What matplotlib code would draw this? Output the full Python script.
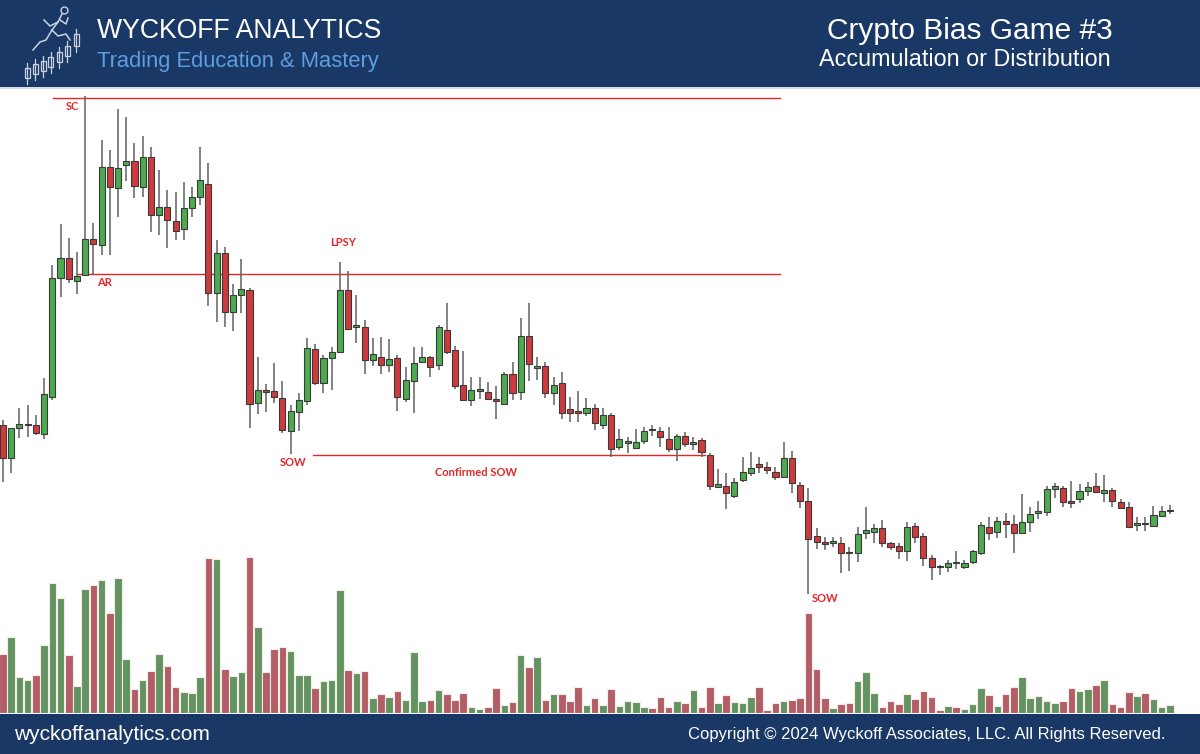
import matplotlib
matplotlib.use("Agg")
import matplotlib.pyplot as plt
from matplotlib.patches import Rectangle
from matplotlib import font_manager as fm

# ---------------- data (price units arbitrary) ----------------
opens = [275,242,272,275,275,266,303,422,442,419,425,461,455,533,512,535,539,513,543,485,
         493,479,471,492,503,516,407,447,388,405,410,297,310,309,302,269,288,299,351,317,
         342,348,410,373,373,340,343,335,342,301,319,338,343,335,370,350,315,300,309,308,
         301,296,326,308,364,332,334,307,317,291,289,287,292,275,285,253,257,252,259,271,
         269,261,251,264,256,260,245,213,214,204,220,227,236,233,228,223,242,215,199,164,
         158,157,157,148,147,167,168,172,157,154,149,174,164,142,134,133,138,133,138,147,
         173,168,179,176,167,178,187,188,211,212,199,201,209,214,207,210,198,193,175,177,
         174,184,189]
highs = [280,272,292,295,285,322,435,476,462,448,604,477,560,550,591,583,557,564,553,530,
         510,508,518,513,553,537,460,453,416,441,412,343,316,337,319,295,307,362,356,345,
         353,438,429,405,380,362,363,361,345,333,353,353,344,375,397,354,349,323,323,318,
         314,328,338,382,397,343,338,323,328,303,309,302,296,292,287,271,263,271,273,275,
         273,273,266,268,263,262,247,231,227,222,243,248,243,238,233,258,249,218,212,172,
         163,163,163,153,173,193,176,180,158,157,178,177,167,145,135,140,149,140,150,178,
         183,183,187,185,206,193,199,214,217,214,219,216,218,227,225,212,201,198,183,183,
         194,194,195]
lows = [218,227,262,263,265,261,300,403,417,406,424,426,445,445,483,519,502,503,468,465,
        452,460,460,483,495,394,378,373,369,387,272,286,288,297,267,246,269,295,315,307,
        310,348,370,357,326,334,326,328,289,298,287,337,323,330,346,311,300,294,301,300,
        281,295,300,300,319,320,302,295,281,278,278,284,270,271,243,250,247,251,256,264,
        253,248,239,253,250,243,210,213,191,202,218,224,227,226,220,222,207,192,106,151,
        150,153,127,129,138,161,157,153,150,141,139,157,134,120,125,128,131,131,136,145,
        160,162,162,147,167,168,181,184,202,193,192,197,204,207,198,193,191,172,169,169,
        173,183,186]
closes = [242,272,276,276,267,306,422,442,421,424,461,456,533,513,532,539,514,543,485,493,
          480,469,492,503,520,407,447,388,405,411,296,310,308,303,270,289,300,352,317,342,
          348,410,371,375,340,346,335,341,303,320,337,343,333,373,348,314,300,310,311,301,
          299,326,307,364,336,334,307,315,287,287,287,292,277,285,251,261,259,258,269,270,
          263,251,264,256,258,248,214,216,207,218,228,232,233,230,223,242,217,199,161,158,
          156,159,147,147,166,170,172,157,153,149,173,163,142,133,133,137,137,137,149,175,
          167,179,176,167,178,186,189,211,214,198,197,209,213,208,210,199,192,173,177,176,
          185,189,190]
volumes = [59,76,36,33,38,68,130,115,58,27,124,128,133,100,135,54,24,33,42,59,
           47,26,21,20,36,155,154,44,37,41,156,86,41,64,66,62,38,38,25,32,
           33,123,43,40,42,15,19,16,22,13,61,12,13,23,19,13,20,6,4,6,
           25,8,11,58,46,56,13,19,19,12,26,8,15,8,24,7,12,11,6,5,
           16,6,12,10,23,6,26,10,18,11,10,16,26,3,10,12,13,15,100,44,
           15,5,9,10,32,41,20,6,12,9,19,14,22,16,3,7,6,4,9,25,
           18,7,19,26,36,15,17,12,10,12,25,22,24,28,33,9,6,21,17,20,
           14,6,8]

level_names = ["SC", "AR", "Confirmed SOW"]
level_prices = [602, 426, 245]
level_spans = [(6.1, 94.6), (9.0, 94.6), (37.7, 85.4)]

label_texts = ["SC", "AR", "LPSY", "SOW", "Confirmed SOW", "SOW"]
label_pos = [(8.5, 593), (12.4, 417), (41.4, 457), (35.3, 238), (57.6, 227), (100.1, 101)]

title_left = "WYCKOFF ANALYTICS"
subtitle_left = "Trading Education & Mastery"
title_right = "Crypto Bias Game #3"
subtitle_right = "Accumulation or Distribution"
footer_left = "wyckoffanalytics.com"
footer_right = "Copyright \u00a9 2024 Wyckoff Associates, LLC. All Rights Reserved."

# ---------------- style ----------------
NAVY = "#1a3865"
UP = "#4caa4f"
DOWN = "#cf3b3c"
VUP = "#629360"
VDOWN = "#b35d66"
LINE_RED = "#e0282a"
ICON = "#c9d3e0"

avail = {f.name for f in fm.fontManager.ttflist}
label_font = "Lato" if "Lato" in avail else "DejaVu Sans"

W, H = 1200, 754
fig = plt.figure(figsize=(12, 7.54), dpi=100)
fig.patch.set_facecolor("white")

def fx(px):
    return px / W

def fy(py):
    return 1 - py / H

# header / footer bands
fig.add_artist(Rectangle((0, fy(87)), 1, 87 / H, transform=fig.transFigure,
                         facecolor=NAVY, edgecolor="none", zorder=0))
fig.add_artist(Rectangle((0, 0), 1, fy(714), transform=fig.transFigure,
                         facecolor=NAVY, edgecolor="none", zorder=0))
fig.add_artist(plt.Line2D([0, 1], [fy(88), fy(88)], transform=fig.transFigure,
                          color="#cfd6e0", lw=1.2))

# axes
pos = [0, fy(713), 1, (713 - 88) / H]
n = len(opens)
idx = list(range(n))
xlim = (-0.365, 145.66)

vax = fig.add_axes(pos)
vax.set_xlim(*xlim)
vax.set_ylim(0, 625)
vax.axis("off")
vcols = [VUP if c >= o else VDOWN for o, c in zip(opens, closes)]
vax.bar(idx, volumes, width=0.92, color=vcols, edgecolor="#f4ece6", linewidth=0.8)

ax = fig.add_axes(pos)
ax.set_xlim(*xlim)
ax.set_ylim(-13, 612)
ax.axis("off")
ax.patch.set_alpha(0)

for name, lvl, (x0, x1) in zip(level_names, level_prices, level_spans):
    ax.plot([x0, x1], [lvl, lvl], color=LINE_RED, lw=1.0, zorder=1)

ax.vlines(idx, lows, highs, color="#606060", lw=1.1, zorder=2)
bottoms = [min(o, c) for o, c in zip(opens, closes)]
heights = [max(abs(c - o), 1.2) for o, c in zip(opens, closes)]
ccols = [UP if c >= o else DOWN for o, c in zip(opens, closes)]
ax.bar(idx, heights, bottom=bottoms, width=0.74, color=ccols,
       edgecolor="#3a3a3a", linewidth=0.8, zorder=3)

for t, (x, y) in zip(label_texts, label_pos):
    ax.text(x, y, t, color=LINE_RED, fontsize=8, fontweight="bold",
            family=label_font, ha="center", va="center", zorder=4)

# logo (candlestick outline icon with a climbing runner)
logo_x = [27, 35, 43, 51, 59, 67, 76]
logo_top = [68, 64, 61, 57, 52, 46, 34]
logo_bot = [78, 74, 71, 67, 62, 56, 46]
for lx, lt, lb in zip(logo_x, logo_top, logo_bot):
    fig.add_artist(Rectangle((fx(lx - 2.5), fy(lb)), 5 / W, (lb - lt) / H,
                             transform=fig.transFigure, facecolor="none",
                             edgecolor=ICON, lw=0.9))
    fig.add_artist(plt.Line2D([fx(lx), fx(lx)], [fy(lb + 6), fy(lt - 5)],
                              transform=fig.transFigure, color=ICON, lw=0.9))
runner = [
    ([33, 40, 46, 52], [50, 42, 40, 30]),      # back leg
    ([52, 58, 66, 70], [30, 36, 34, 40]),      # front leg
    ([52, 58, 62], [30, 22, 14]),               # torso
    ([58, 50, 44], [22, 26, 20]),               # back arm
    ([60, 66, 68], [20, 24, 18]),               # front arm
]
for xs, ys in runner:
    fig.add_artist(plt.Line2D([fx(v) for v in xs], [fy(v) for v in ys],
                              transform=fig.transFigure, color=ICON, lw=1.1))
fig.add_artist(plt.Line2D([fx(64)], [fy(10)], transform=fig.transFigure,
                          marker="o", ms=5, mfc="none", mec=ICON, mew=1.0))

# header text
fig.text(fx(97), fy(31), title_left, color="white", fontsize=19.2,
         family="Liberation Sans", ha="left", va="center")
fig.text(fx(97), fy(62), subtitle_left, color="#5e9de0", fontsize=15.8,
         family="Liberation Sans", ha="left", va="center")
fig.text(fx(1113), fy(31), title_right, color="white", fontsize=21.5,
         family="Liberation Sans", ha="right", va="center")
fig.text(fx(1111), fy(60), subtitle_right, color="white", fontsize=16.8,
         family="Liberation Sans", ha="right", va="center")

# footer text
fig.text(fx(14), fy(735), footer_left, color="white", fontsize=15,
         family="Liberation Sans", ha="left", va="center")
fig.text(fx(1165), fy(734), footer_right, color="white", fontsize=12,
         family="Liberation Sans", ha="right", va="center")

fig.savefig("out.png", dpi=100, facecolor="white")
